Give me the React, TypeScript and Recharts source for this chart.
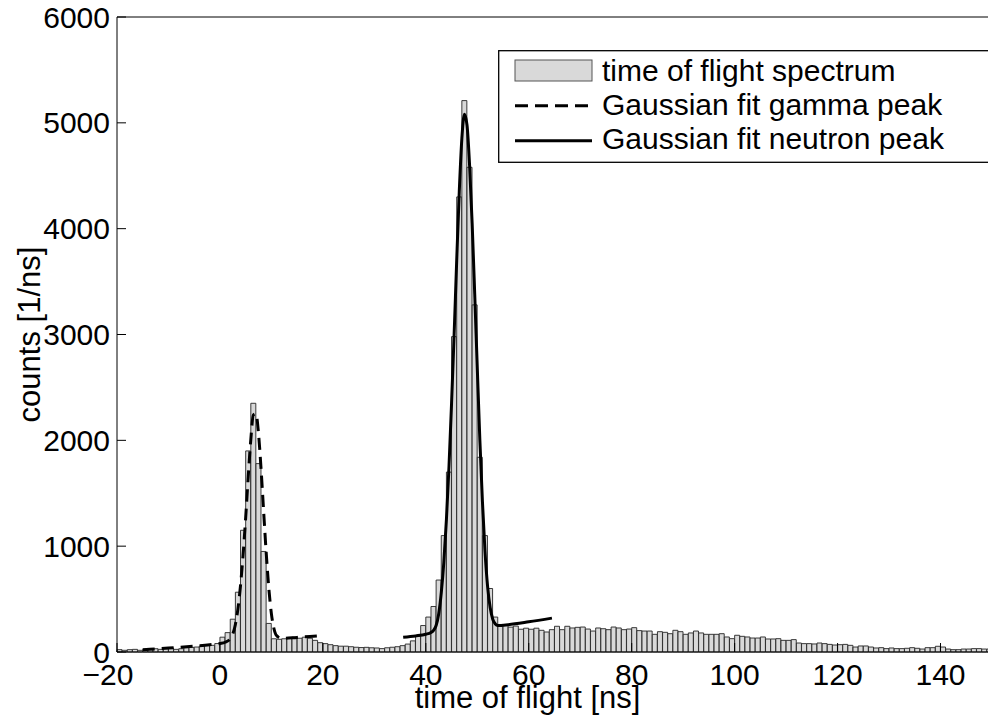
import { Bar, ComposedChart, Label, Legend, Line, XAxis, YAxis } from "recharts";

const FONT = "'Liberation Sans', Arial, Helvetica, sans-serif";

// histogram, 1 ns bins, first bin starts at -20 ns
const binStart = -20;
const counts = [
  // -20 .. -1
  22, 16, 22, 25, 16, 25, 31, 31, 25, 31, 38, 25, 31, 41, 44, 47, 57, 63, 63, 80,
  // 0 .. 19
  140, 183, 310, 565, 1150, 1900, 2350, 1780, 950, 270, 125, 120, 125, 130, 140, 130, 140, 130, 110, 88,
  // 20 .. 39
  79, 69, 60, 55, 55, 50, 45, 42, 44, 40, 38, 32, 40, 45, 50, 60, 75, 105, 150, 250,
  // 40 .. 59
  330, 430, 680, 1100, 1700, 2980, 4300, 5210, 4580, 3280, 1840, 1100, 600, 330, 260, 250, 235, 245, 215, 225,
  // 60 .. 79
  215, 225, 205, 189, 211, 243, 211, 243, 227, 233, 236, 217, 198, 227, 220, 211, 236, 227, 211, 217,
  // 80 .. 99
  230, 202, 198, 198, 167, 192, 186, 173, 205, 192, 167, 180, 198, 180, 167, 167, 167, 173, 142, 126,
  // 100 .. 119
  158, 148, 142, 132, 132, 142, 123, 123, 126, 110, 110, 117, 85, 79, 79, 76, 85, 79, 72, 66,
  // 120 .. 139
  69, 72, 63, 47, 57, 57, 47, 38, 41, 32, 38, 32, 32, 35, 41, 35, 28, 41, 41, 54,
  // 140 .. 149
  47, 28, 22, 22, 28, 28, 32, 32, 28, 28,
];

const gammaT = [-15, -10, -5, -2, 0, 1, 2, 2.5, 3, 3.5, 4, 4.5, 5, 5.5, 6, 6.5, 7, 7.5, 8, 8.5, 9, 9.5, 10, 10.5, 11, 12, 15, 19];
const gammaY = [22, 38, 55, 68, 80, 92, 125, 170, 260, 410, 630, 920, 1270, 1660, 2010, 2240, 2250, 2060, 1720, 1320, 930, 600, 360, 220, 155, 128, 138, 152];

const neutronT = [35.6, 38, 40, 41, 41.5, 42, 42.5, 43, 43.5, 44, 44.5, 45, 45.5, 46, 46.5, 47, 47.5, 48, 48.5, 49, 49.5, 50, 50.5, 51, 51.5, 52, 52.5, 53, 53.5, 54, 56, 60, 64.5];
const neutronY = [140, 152, 168, 185, 205, 250, 360, 560, 850, 1250, 1750, 2350, 3000, 3700, 4350, 4850, 5080, 4980, 4600, 4050, 3380, 2680, 2000, 1420, 950, 620, 420, 310, 265, 250, 258, 285, 320];

const xTicks = [-20, 0, 20, 40, 60, 80, 100, 120, 140];
const yTicks = [0, 1000, 2000, 3000, 4000, 5000, 6000];

const seriesNames = ["time of flight spectrum", "Gaussian fit gamma peak", "Gaussian fit neutron peak"];

const bins = counts.map((count, i) => ({ bin: binStart + i, count }));
const gammaData = gammaT.map((t, i) => ({ t, v: gammaY[i] }));
const neutronData = neutronT.map((t, i) => ({ t, v: neutronY[i] }));

function XTick(props: any) {
  const { x, y, payload } = props;
  const v = payload.value as number;
  return (
    <text x={x} y={y} dx={v < 0 ? -9 : 0} dy="0.71em" textAnchor="middle" fontSize={30} fontFamily={FONT} fill="#000">
      {v < 0 ? `\u2212${-v}` : String(v)}
    </text>
  );
}

function LegendBox() {
  return (
    <svg width={540} height={114} style={{ display: "block" }}>
      <rect x={0.7} y={0.7} width={538} height={111.6} fill="#fff" stroke="#000" strokeWidth={1.3} />
      <rect x={17} y={10} width={77} height={21} fill="#d9d9d9" stroke="#555" strokeWidth={1} />
      <line x1={17} x2={94} y1={55.7} y2={55.7} stroke="#000" strokeWidth={3} strokeDasharray="13 7" />
      <line x1={17} x2={94} y1={90.7} y2={90.7} stroke="#000" strokeWidth={3} />
      {seriesNames.map((n, i) => (
        <text key={n} x={104} y={31 + i * 34} fontSize={30} fontFamily={FONT} fill="#000">
          {n}
        </text>
      ))}
    </svg>
  );
}

function YTitle(props: any) {
  const vb = props.viewBox || { x: 0, y: 17, width: 117, height: 635 };
  const cx = vb.x + 29;
  const cy = vb.y + vb.height / 2;
  return (
    <text x={cx} y={cy} transform={`rotate(-90 ${cx} ${cy})`} textAnchor="middle" dominantBaseline="central" fontSize={31} fontFamily={FONT} fill="#000">
      counts [1/ns]
    </text>
  );
}

function XTitle(props: any) {
  const vb = props.viewBox || { x: 117, y: 652, width: 875, height: 70 };
  const cx = vb.x + vb.width / 2 - 27;
  return (
    <text x={cx} y={vb.y + 56} textAnchor="middle" fontSize={31} fontFamily={FONT} fill="#000">
      time of flight [ns]
    </text>
  );
}

export default function App() {
  const tickStyle = { fill: "#000", fontSize: 30, fontFamily: FONT };
  return (
    <div style={{ position: "absolute", left: 0, top: 0, width: 988, height: 722, overflow: "hidden", background: "#fff" }}>
      <ComposedChart
        width={1010}
        height={722}
        data={bins}
        margin={{ top: 16, right: 17, bottom: 0, left: 0 }}
        barCategoryGap={0}
        barGap={0}
      >
        <XAxis xAxisId="bins" dataKey="bin" type="category" hide height={0} />
        <XAxis
          xAxisId="t"
          dataKey="t"
          type="number"
          domain={[-20, 150]}
          allowDataOverflow
          ticks={xTicks}
          height={70}
          tickSize={-9}
          tickMargin={21}
          tick={<XTick />}
          axisLine={{ stroke: "#000", strokeWidth: 1 }}
          tickLine={{ stroke: "#000" }}
        >
          <Label content={XTitle} />
        </XAxis>
        <XAxis
          xAxisId="top"
          orientation="top"
          type="number"
          domain={[-20, 150]}
          allowDataOverflow
          ticks={xTicks}
          height={1}
          tickSize={-9}
          tick={false}
          axisLine={{ stroke: "#000", strokeWidth: 1 }}
          tickLine={{ stroke: "#000" }}
        />
        <YAxis
          yAxisId="left"
          type="number"
          domain={[0, 6000]}
          ticks={yTicks}
          width={117}
          tickSize={-9}
          tickMargin={16}
          tick={tickStyle}
          axisLine={{ stroke: "#000", strokeWidth: 1 }}
          tickLine={{ stroke: "#000" }}
        >
          <Label content={YTitle} />
        </YAxis>
        <YAxis
          yAxisId="right"
          orientation="right"
          type="number"
          domain={[0, 6000]}
          ticks={yTicks}
          width={1}
          tickSize={-9}
          tick={false}
          axisLine={{ stroke: "#000", strokeWidth: 1 }}
          tickLine={{ stroke: "#000" }}
        />
        <Bar
          xAxisId="bins"
          yAxisId="left"
          dataKey="count"
          name={seriesNames[0]}
          fill="#d9d9d9"
          stroke="#262626"
          strokeWidth={0.9}
          isAnimationActive={false}
        />
        <Line
          xAxisId="t"
          yAxisId="left"
          data={gammaData}
          dataKey="v"
          name={seriesNames[1]}
          type="monotone"
          stroke="#000"
          strokeWidth={3}
          strokeDasharray="12 7"
          dot={false}
          isAnimationActive={false}
        />
        <Line
          xAxisId="t"
          yAxisId="left"
          data={neutronData}
          dataKey="v"
          name={seriesNames[2]}
          type="monotone"
          stroke="#000"
          strokeWidth={3}
          dot={false}
          isAnimationActive={false}
        />
        <Legend
          layout="vertical"
          align="center"
          verticalAlign="middle"
          content={() => <LegendBox />}
          wrapperStyle={{ left: 498, top: 50, width: 540, height: 114 }}
        />
      </ComposedChart>
    </div>
  );
}
